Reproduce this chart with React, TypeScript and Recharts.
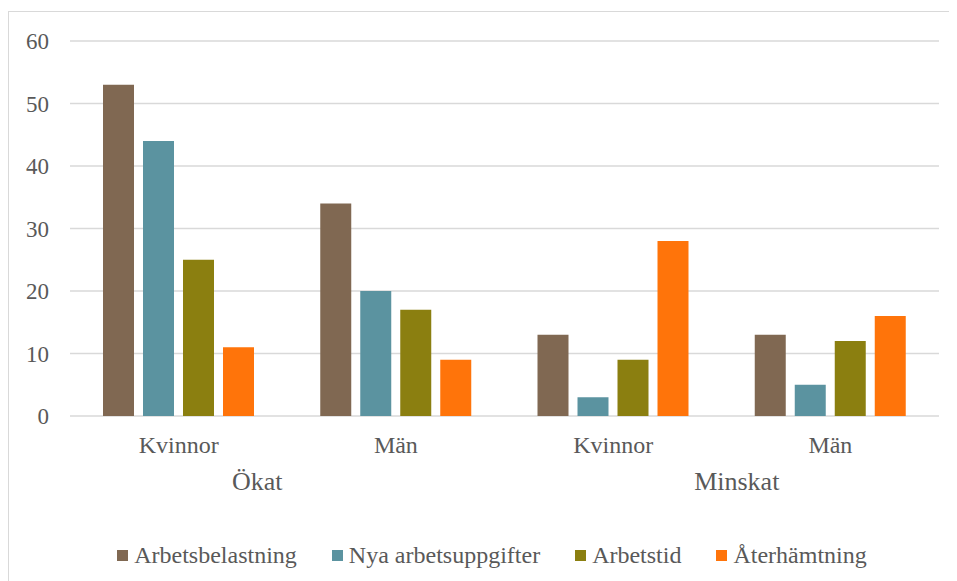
import React from "react";
import {
  BarChart,
  Bar,
  XAxis,
  YAxis,
  CartesianGrid,
  Legend,
} from "recharts";

const groups = ["Ökat", "Ökat", "Minskat", "Minskat"];
const genders = ["Kvinnor", "Män", "Kvinnor", "Män"];
const arbetsbelastning = [53, 34, 13, 13];
const nyaArbetsuppgifter = [44, 20, 3, 5];
const arbetstid = [25, 17, 9, 12];
const aterhamtning = [11, 9, 28, 16];
const yTicks = [0, 10, 20, 30, 40, 50, 60];

const series = [
  { key: "arbetsbelastning", name: "Arbetsbelastning", color: "#806852" },
  { key: "nya", name: "Nya arbetsuppgifter", color: "#5B93A0" },
  { key: "arbetstid", name: "Arbetstid", color: "#8B7F10" },
  { key: "aterhamtning", name: "Återhämtning", color: "#FF740A" },
];

const data = genders.map((g, i) => ({
  gender: g,
  group: groups[i],
  arbetsbelastning: arbetsbelastning[i],
  nya: nyaArbetsuppgifter[i],
  arbetstid: arbetstid[i],
  aterhamtning: aterhamtning[i],
}));

const font = "'Liberation Serif', 'Times New Roman', serif";
const textColor = "#595959";

// Excel places the outer labels a bit off-centre
const groupShift: Record<string, number> = { "Ökat": -30, "Minskat": 15 };

function GroupTick(props: any) {
  const { x, y, payload } = props;
  const v = payload.value as string;
  return (
    <text
      x={x + (groupShift[v] || 0)}
      y={y}
      dy="0.71em"
      textAnchor="middle"
      fill={textColor}
      fontSize={26}
      fontFamily={font}
    >
      {v}
    </text>
  );
}

function LegendBox() {
  return (
    <div
      style={{
        height: 86,
        boxSizing: "border-box",
        paddingTop: 2,
        paddingLeft: 36,
        display: "flex",
        justifyContent: "center",
        fontFamily: font,
        fontSize: 24,
        lineHeight: "24px",
        color: textColor,
      }}
    >
      {series.map((s, i) => (
        <div
          key={s.key}
          style={{
            display: "flex",
            alignItems: "center",
            marginLeft: i === 0 ? 0 : 35,
          }}
        >
          <span
            style={{
              width: 11,
              height: 11,
              background: s.color,
              marginRight: 6,
              display: "inline-block",
            }}
          />
          <span>{s.name}</span>
        </div>
      ))}
    </div>
  );
}

export default function App() {
  return (
    <div
      style={{
        marginTop: 3,
        width: 980,
        height: 600,
        border: "1px solid #D9D9D9",
        boxSizing: "border-box",
        background: "#fff",
      }}
    >
      <BarChart
        width={940}
        height={585}
        data={data}
        margin={{ top: 29, right: 10, bottom: 0, left: 0 }}
        barSize={31}
        barGap={9}
      >
        <CartesianGrid
          vertical={false}
          stroke="#D9D9D9"
          strokeWidth={1.5}
        />
        <YAxis
          domain={[0, 60]}
          ticks={yTicks}
          width={61}
          axisLine={false}
          tickLine={false}
          tickSize={0}
          tickMargin={21}
          tick={{ fill: textColor, fontSize: 23, fontFamily: font }}
        />
        <XAxis
          dataKey="gender"
          height={45}
          axisLine={false}
          tickLine={false}
          tickSize={0}
          tickMargin={20}
          interval={0}
          tick={{ fill: textColor, fontSize: 24, fontFamily: font }}
        />
        <XAxis
          xAxisId="group"
          dataKey="group"
          allowDuplicatedCategory={false}
          height={50}
          axisLine={false}
          tickLine={false}
          tickSize={0}
          tickMargin={11}
          interval={0}
          tick={<GroupTick />}
        />
        <Legend verticalAlign="bottom" content={<LegendBox />} />
        {series.map((s) => (
          <Bar
            key={s.key}
            dataKey={s.key}
            name={s.name}
            fill={s.color}
            isAnimationActive={false}
          />
        ))}
      </BarChart>
    </div>
  );
}
